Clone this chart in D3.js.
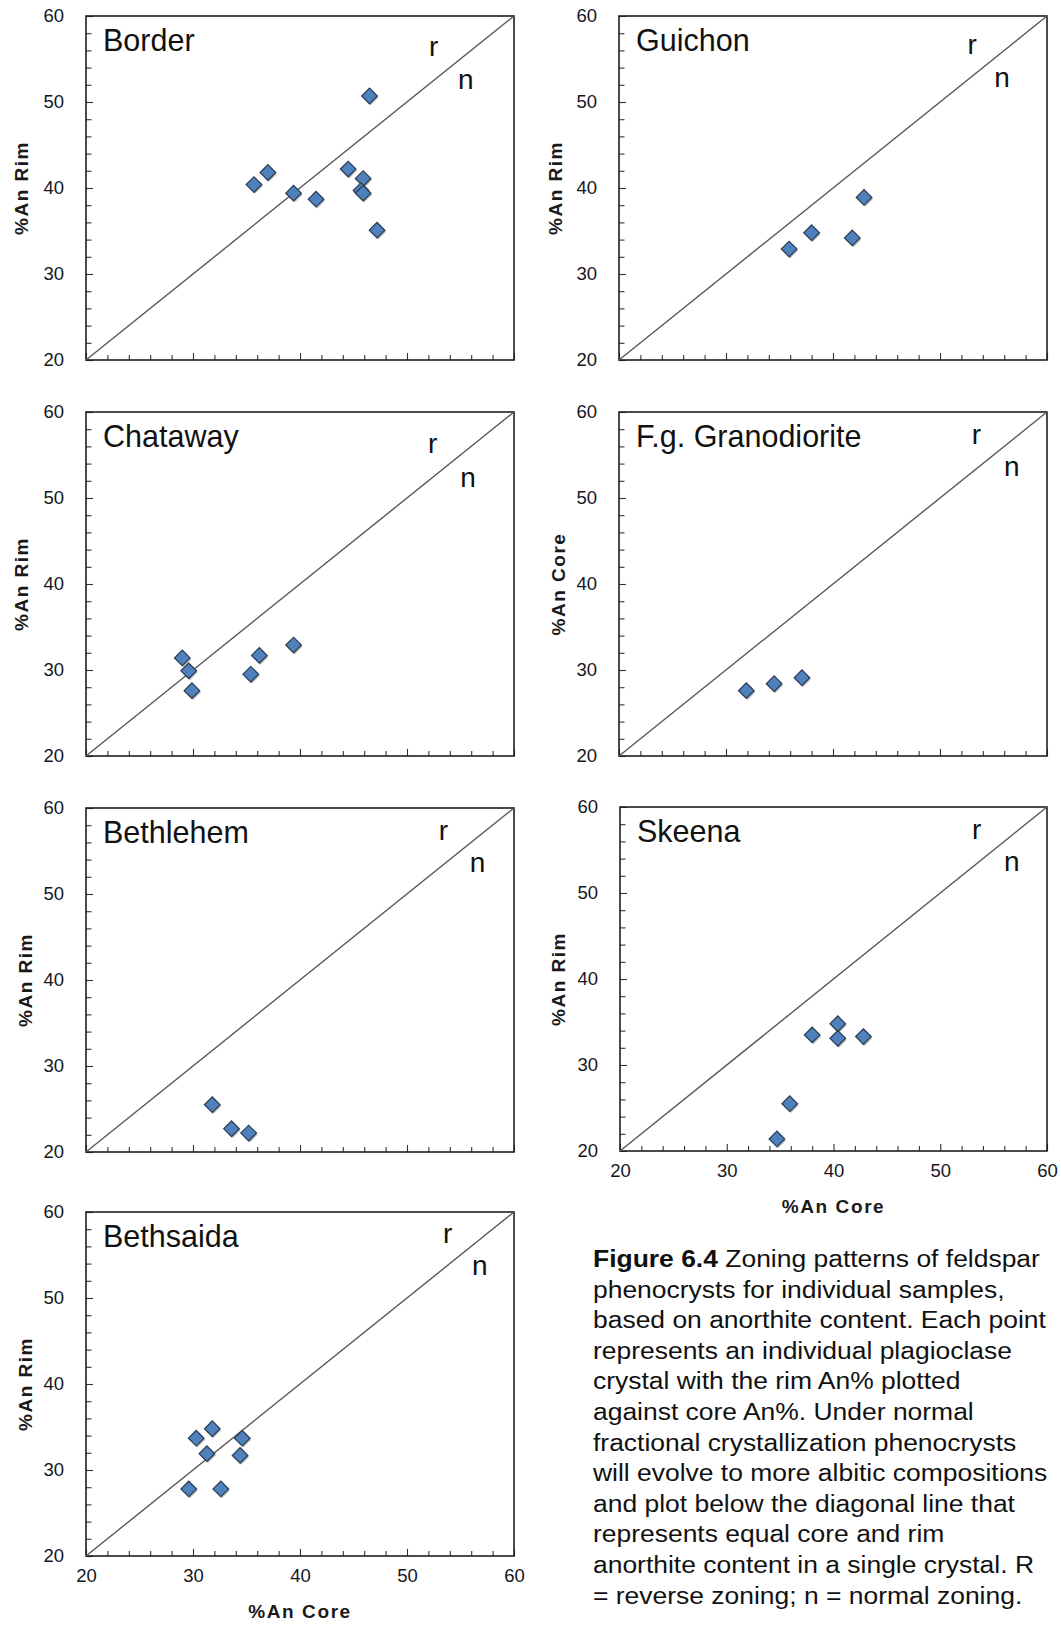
<!DOCTYPE html>
<html><head><meta charset="utf-8">
<script src="https://cdn.jsdelivr.net/npm/d3@7"></script>
<style>
body{margin:0;background:#fff;}
svg text{font-family:"Liberation Sans",Arial,sans-serif;}
</style>
</head><body>
<svg id="chart" width="1061" height="1627"></svg>
<script>
// ---------- data ----------
const panelNames = ["Border","Guichon","Chataway","F.g. Granodiorite","Bethlehem","Skeena","Bethsaida"];
const yTitles = ["%An Rim","%An Rim","%An Rim","%An Core","%An Rim","%An Rim","%An Rim"];
const xTitle = "%An Core";

const borderCore = [35.7, 37.0, 39.4, 41.5, 44.5, 45.9, 45.7, 45.9, 46.5, 47.2];
const borderRim  = [40.4, 41.8, 39.4, 38.7, 42.2, 41.1, 39.7, 39.4, 50.7, 35.1];
const guichonCore = [35.9, 38.0, 41.8, 42.9];
const guichonRim  = [32.9, 34.8, 34.2, 38.9];
const chatawayCore = [29.0, 29.6, 29.9, 35.4, 36.2, 39.4];
const chatawayRim  = [31.4, 29.9, 27.6, 29.5, 31.7, 32.9];
const fgCore = [31.9, 34.5, 37.1];
const fgRim  = [27.6, 28.4, 29.1];
const bethlehemCore = [31.8, 33.6, 35.2];
const bethlehemRim  = [25.5, 22.7, 22.2];
const skeenaCore = [34.7, 35.9, 38.0, 40.4, 40.4, 42.8];
const skeenaRim  = [21.4, 25.5, 33.5, 34.8, 33.1, 33.3];
const bethsaidaCore = [29.6, 30.3, 31.3, 31.8, 32.6, 34.4, 34.6];
const bethsaidaRim  = [27.8, 33.7, 31.9, 34.8, 27.8, 31.7, 33.7];

const coreSeries = [borderCore, guichonCore, chatawayCore, fgCore, bethlehemCore, skeenaCore, bethsaidaCore];
const rimSeries  = [borderRim, guichonRim, chatawayRim, fgRim, bethlehemRim, skeenaRim, bethsaidaRim];

const axisDomain = [20, 60];
const majorTicks = [20, 30, 40, 50, 60];
const tickLabels = ["20", "30", "40", "50", "60"];
const zoneLabels = ["r", "n"];

const captionBold = "Figure 6.4";
const captionLines = [
  " Zoning patterns of feldspar",
  "phenocrysts for individual samples,",
  "based on anorthite content. Each point",
  "represents an individual plagioclase",
  "crystal with the rim An% plotted",
  "against core An%. Under normal",
  "fractional crystallization phenocrysts",
  "will evolve to more albitic compositions",
  "and plot below the diagonal line that",
  "represents equal core and rim",
  "anorthite content in a single crystal. R",
  "= reverse zoning; n = normal zoning."
];

// ---------- layout (pixel boxes, annotation anchors in data units) ----------
const layout = [
  {x0:86,  x1:514,  y0:16,   y1:360,  yt:65, xAxis:false, r:[52.5,55.4], n:[55.5,51.5]},
  {x0:619, x1:1047, y0:16,   y1:360,  yt:64, xAxis:false, r:[53.0,55.6], n:[55.8,51.7]},
  {x0:86,  x1:514,  y0:412,  y1:756,  yt:65, xAxis:false, r:[52.4,55.2], n:[55.7,51.3]},
  {x0:619, x1:1047, y0:412,  y1:756,  yt:61, xAxis:false, r:[53.4,56.3], n:[56.7,52.6]},
  {x0:86,  x1:514,  y0:808,  y1:1152, yt:61, xAxis:false, r:[53.4,56.3], n:[56.6,52.6]},
  {x0:620, x1:1047, y0:807,  y1:1151, yt:62, xAxis:true,  r:[53.4,56.3], n:[56.7,52.6]},
  {x0:86,  x1:514,  y0:1212, y1:1556, yt:61, xAxis:true,  r:[53.8,56.4], n:[56.8,52.7]}
];

const svg = d3.select("#chart");
const minor = d3.range(20, 61, 2);
const fmt = d => majorTicks.includes(d) ? tickLabels[majorTicks.indexOf(d)] : "";

panelNames.forEach((name, i) => {
  const L = layout[i];
  const x = d3.scaleLinear().domain(axisDomain).range([L.x0, L.x1]);
  const y = d3.scaleLinear().domain(axisDomain).range([L.y1, L.y0]);
  const g = svg.append("g");

  // y axis (inside ticks)
  const ya = g.append("g").attr("transform", `translate(${L.x0},0)`)
    .call(d3.axisLeft(y).tickValues(minor).tickFormat(fmt).tickSizeInner(-5.5).tickSizeOuter(0).tickPadding(22));
  ya.select(".domain").remove();
  ya.selectAll(".tick line").attr("stroke", "#333").attr("stroke-width", 1.1)
    .attr("x2", d => majorTicks.includes(d) ? 7 : 5.5);
  ya.selectAll(".tick text").attr("font-size", 18.5).attr("fill", "#16161e")
    .attr("font-family", "'Liberation Sans', Arial, sans-serif");

  // x axis (inside ticks)
  const xa = g.append("g").attr("transform", `translate(0,${L.y1})`)
    .call(d3.axisBottom(x).tickValues(minor).tickFormat(L.xAxis ? fmt : () => "")
      .tickSizeInner(-5).tickSizeOuter(0).tickPadding(13));
  xa.select(".domain").remove();
  xa.selectAll(".tick line").attr("stroke", "#333").attr("stroke-width", 1.1)
    .attr("y2", d => majorTicks.includes(d) ? -7 : -5);
  xa.selectAll(".tick text").attr("font-size", 18.5).attr("fill", "#16161e")
    .attr("font-family", "'Liberation Sans', Arial, sans-serif");

  // frame
  g.append("rect").attr("x", L.x0).attr("y", L.y0)
    .attr("width", L.x1 - L.x0).attr("height", L.y1 - L.y0)
    .attr("fill", "none").attr("stroke", "#1e1e1e").attr("stroke-width", 1.6);

  // 1:1 line
  g.append("line")
    .attr("x1", x(axisDomain[0])).attr("y1", y(axisDomain[0]))
    .attr("x2", x(axisDomain[1])).attr("y2", y(axisDomain[1]))
    .attr("stroke", "#585858").attr("stroke-width", 1.4);

  // title
  g.append("text").attr("x", L.x0 + 17).attr("y", L.y0 + 35)
    .attr("font-size", 30.5).attr("fill", "#111").text(name);

  // r / n
  g.append("text").attr("x", x(L.r[0])).attr("y", y(L.r[1])).attr("text-anchor", "middle")
    .attr("font-size", 28).attr("fill", "#111").text(zoneLabels[0]);
  g.append("text").attr("x", x(L.n[0])).attr("y", y(L.n[1])).attr("text-anchor", "middle")
    .attr("font-size", 28).attr("fill", "#111").text(zoneLabels[1]);

  // y title
  g.append("text")
    .attr("transform", `translate(${L.x0 - L.yt},${(L.y0 + L.y1) / 2}) rotate(-90)`)
    .attr("text-anchor", "middle").attr("dy", "0.36em")
    .attr("font-size", 19).attr("font-weight", "bold").attr("letter-spacing", 1.5)
    .attr("fill", "#1a1a1a").text(yTitles[i]);

  if (L.xAxis) {
    g.append("text").attr("x", (L.x0 + L.x1) / 2).attr("y", L.y1 + 62)
      .attr("text-anchor", "middle")
      .attr("font-size", 19).attr("font-weight", "bold").attr("letter-spacing", 1.6)
      .attr("fill", "#1a1a1a").text(xTitle);
  }

  // points
  const pts = coreSeries[i].map((c, k) => [c, rimSeries[i][k]]);
  const sym = d3.symbol().type(d3.symbolSquare).size(122);
  g.selectAll("path.shadow").data(pts).join("path").attr("class", "shadow")
    .attr("d", sym)
    .attr("transform", d => `translate(${x(d[0]) + 1.2},${y(d[1]) + 1.5}) rotate(45)`)
    .attr("fill", "#666").attr("opacity", 0.45);
  g.selectAll("path.pt").data(pts).join("path").attr("class", "pt")
    .attr("d", sym)
    .attr("transform", d => `translate(${x(d[0])},${y(d[1])}) rotate(45)`)
    .attr("fill", "#4f81bd").attr("stroke", "#2a3a50").attr("stroke-width", 1.2);
});

// caption
const cap = svg.append("g").attr("transform", "translate(593,1267) scale(1.08,1)");
captionLines.forEach((line, i) => {
  const t = cap.append("text").attr("x", 0).attr("y", i * 30.6)
    .attr("font-size", 24.5).attr("fill", "#111").attr("xml:space", "preserve")
    .style("white-space", "pre");
  if (i === 0) {
    t.append("tspan").attr("font-weight", "bold").text(captionBold);
  }
  t.append("tspan").text(line);
});
</script>
</body></html>
